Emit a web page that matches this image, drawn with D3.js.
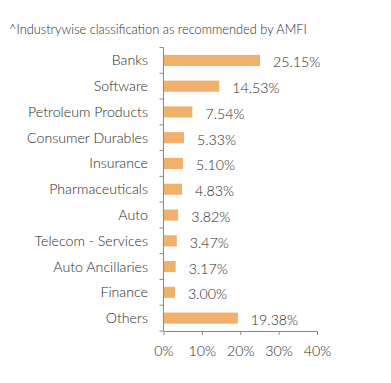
<!DOCTYPE html>
<html><head><meta charset="utf-8">
<script src="https://cdn.jsdelivr.net/npm/d3@7"></script>
<style>body{margin:0;background:#fff;}svg{display:block;}text{font-family:Lato,sans-serif;fill:#2a2a2a;}</style>
</head><body>
<svg id="chart" width="391" height="383"></svg>
<script>
const categories = ["Banks","Software","Petroleum Products","Consumer Durables","Insurance","Pharmaceuticals","Auto","Telecom - Services","Auto Ancillaries","Finance","Others"];
const values = [25.15,14.53,7.54,5.33,5.10,4.83,3.82,3.47,3.17,3.00,19.38];
const valueLabels = ["25.15%","14.53%","7.54%","5.33%","5.10%","4.83%","3.82%","3.47%","3.17%","3.00%","19.38%"];
const xTicks = [0,10,20,30,40];
const title = "^Industrywise classification as recommended by AMFI";

const svg = d3.select("#chart");
const x = d3.scaleLinear().domain([0,40]).range([163.5,317]);
const y = d3.scaleBand().domain(categories).range([47.5,331]).paddingInner(0.57).paddingOuter(0.285);

svg.append("text").attr("x",9).attr("y",34).attr("font-size",12.8).attr("font-weight",300).text(title);

svg.selectAll("rect.bar").data(values).join("rect").attr("class","bar")
  .attr("x",x(0)).attr("y",(d,i)=>y(categories[i]))
  .attr("width",d=>x(d)-x(0)).attr("height",y.bandwidth())
  .attr("fill","#F1B06B");

svg.selectAll("text.val").data(values).join("text").attr("class","val")
  .attr("x",d=>x(d)+13).attr("y",(d,i)=>y(categories[i])+y.bandwidth()/2+2)
  .attr("dy","0.35em").attr("font-size",14.2).attr("font-weight",300)
  .text((d,i)=>valueLabels[i]);

// y axis
const yAxisG = svg.append("g");
yAxisG.append("line").attr("x1",x(0)).attr("x2",x(0)).attr("y1",47.5).attr("y2",331).attr("stroke","#888").attr("stroke-width",1);
d3.range(categories.length+1).forEach(i=>{
  const yy = 47.5 + i*(331-47.5)/categories.length;
  yAxisG.append("line").attr("x1",x(0)-4).attr("x2",x(0)).attr("y1",yy).attr("y2",yy).attr("stroke","#888");
});
yAxisG.selectAll("text").data(categories).join("text")
  .attr("x",148).attr("y",d=>y(d)+y.bandwidth()/2).attr("dy","0.35em")
  .attr("text-anchor","end").attr("font-size",14.2).attr("font-weight",300).text(d=>d);

// x axis
const xAxis = d3.axisBottom(x).tickValues(xTicks).tickFormat(d=>d+"%").tickSize(4).tickSizeOuter(0);
const xg = svg.append("g").attr("transform","translate(0,331)").call(xAxis);
xg.select(".domain").attr("stroke","#888");
xg.selectAll(".tick line").attr("stroke","#888");
xg.selectAll(".tick text").attr("font-size",14.2).attr("font-weight",300).attr("font-family","Lato,sans-serif").attr("fill","#2a2a2a").attr("dy","1.3em");
</script>
</body></html>
